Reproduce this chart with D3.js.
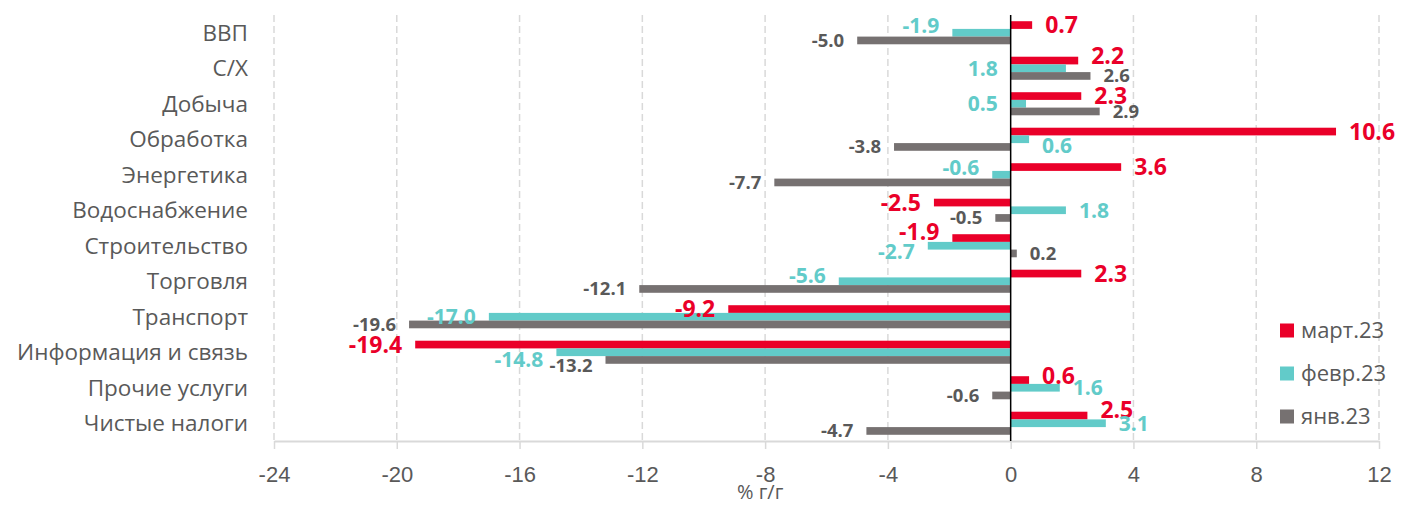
<!DOCTYPE html>
<html>
<head>
<meta charset="utf-8">
<script src="https://cdn.jsdelivr.net/npm/d3@7"></script>
<style>
  body { margin: 0; background: #fff; }
  svg { display: block; font-family: "Open Sans", sans-serif; }
</style>
</head>
<body>
<div id="chart"></div>
<script>
// categories top to bottom
const categories = [
  "ВВП", "С/Х", "Добыча", "Обработка", "Энергетика", "Водоснабжение",
  "Строительство", "Торговля", "Транспорт", "Информация и связь",
  "Прочие услуги", "Чистые налоги"
];

// % г/г by month
const march = [0.7, 2.2, 2.3, 10.6, 3.6, -2.5, -1.9, 2.3, -9.2, -19.4, 0.6, 2.5];
const february = [-1.9, 1.8, 0.5, 0.6, -0.6, 1.8, -2.7, -5.6, -17.0, -14.8, 1.6, 3.1];
const january = [-5.0, 2.6, 2.9, -3.8, -7.7, -0.5, 0.2, -12.1, -19.6, -13.2, -0.6, -4.7];

const seriesNames = ["март.23", "февр.23", "янв.23"];
const xTicks = [-24, -20, -16, -12, -8, -4, 0, 4, 8, 12];

const series = [
  { name: seriesNames[0], values: march, color: "#EA0029", label: "#EA0029", size: 23 },
  { name: seriesNames[1], values: february, color: "#62CBC9", label: "#62CBC9", size: 21 },
  { name: seriesNames[2], values: january, color: "#767171", label: "#595959", size: 18.5 }
];

// hand-placed labels in the original (moved up/down or put on the other side)
const labelTweaks = {
  "февр.23|ВВП": { dy: -7 },
  "март.23|С/Х": { dy: -5 },
  "февр.23|С/Х": { flip: true },
  "февр.23|Добыча": { flip: true },
  "февр.23|Обработка": { dy: 6 },
  "февр.23|Энергетика": { dy: -7 },
  "март.23|Строительство": { dy: -6 },
  "февр.23|Строительство": { dy: 6 },
  "февр.23|Торговля": { dy: -6 },
  "февр.23|Информация и связь": { dy: 7 },
  "янв.23|Информация и связь": { dy: 6 },
  "март.23|Прочие услуги": { dy: -4 },
  "март.23|Чистые налоги": { dy: -6 }
};

// plain hyphen minus like the original
const fmt = d3.formatLocale({ decimal: ".", thousands: " ", grouping: [3], currency: ["", ""], minus: "-" });

const width = 1402, height = 506;
const plot = { left: 274, right: 1379, top: 15, bottom: 441 };

const svg = d3.select("#chart")
  .append("svg")
  .attr("width", width)
  .attr("height", height);

const x = d3.scaleLinear()
  .domain([-24, 12])
  .range([plot.left, plot.right]);

const y = d3.scaleBand()
  .domain(categories)
  .range([plot.top, plot.bottom])
  .paddingInner(0.35)
  .paddingOuter(0.175);

const ySeries = d3.scaleBand()
  .domain(seriesNames)
  .range([0, y.bandwidth()]);

// dashed vertical gridlines
svg.append("g")
  .selectAll("line")
  .data(xTicks.filter((t) => t !== 0))
  .enter()
  .append("line")
  .attr("x1", (d) => x(d))
  .attr("x2", (d) => x(d))
  .attr("y1", plot.top)
  .attr("y2", plot.bottom)
  .attr("stroke", "#D9D9D9")
  .attr("stroke-width", 1.5)
  .attr("stroke-dasharray", "7,4");

// bottom axis
const axis = svg.append("g")
  .attr("transform", `translate(0,${plot.bottom})`)
  .call(d3.axisBottom(x).tickValues(xTicks).tickSizeInner(8).tickSizeOuter(0).tickFormat(fmt.format("d")));

axis.select(".domain").attr("stroke", "#D9D9D9").attr("stroke-width", 2);
axis.selectAll(".tick line").attr("stroke", "#D9D9D9").attr("stroke-width", 1.5);
axis.selectAll(".tick text")
  .attr("y", 33)
  .attr("dy", "0.35em")
  .attr("fill", "#595959")
  .style("font-size", "22px");

// axis title
svg.append("text")
  .attr("x", x(-8) - 5)
  .attr("y", 492)
  .attr("dy", "0.35em")
  .attr("text-anchor", "middle")
  .attr("fill", "#595959")
  .style("font-size", "20px")
  .text("% г/г");

// category labels
svg.append("g")
  .selectAll("text")
  .data(categories)
  .enter()
  .append("text")
  .attr("x", plot.left - 26)
  .attr("y", (d) => y(d) + y.bandwidth() / 2)
  .attr("dy", "0.35em")
  .attr("text-anchor", "end")
  .attr("fill", "#595959")
  .style("font-size", "22.5px")
  .text((d) => d);

// bars
const rows = series.flatMap((s) =>
  s.values.map((v, i) => ({ series: s, cat: categories[i], value: v }))
);

svg.append("g")
  .selectAll("rect")
  .data(rows)
  .enter()
  .append("rect")
  .attr("x", (d) => x(Math.min(0, d.value)))
  .attr("y", (d) => y(d.cat) + ySeries(d.series.name))
  .attr("width", (d) => Math.abs(x(d.value) - x(0)))
  .attr("height", ySeries.bandwidth())
  .attr("fill", (d) => d.series.color);

// zero line
svg.append("line")
  .attr("x1", x(0))
  .attr("x2", x(0))
  .attr("y1", plot.top)
  .attr("y2", plot.bottom)
  .attr("stroke", "#000")
  .attr("stroke-width", 1.5);

// value labels
const pad = 13;
svg.append("g")
  .selectAll("text")
  .data(rows)
  .enter()
  .append("text")
  .each(function (d) {
    const tw = labelTweaks[d.series.name + "|" + d.cat] || {};
    let right = d.value >= 0;
    let xPos = right ? x(d.value) + pad : x(d.value) - pad;
    if (tw.flip) {
      right = false;
      xPos = x(0) - pad;
    }
    d3.select(this)
      .attr("x", xPos)
      .attr("y", y(d.cat) + ySeries(d.series.name) + ySeries.bandwidth() / 2 + (tw.dy || 0))
      .attr("text-anchor", right ? "start" : "end");
  })
  .attr("dy", "0.35em")
  .attr("fill", (d) => d.series.label)
  .style("font-size", (d) => d.series.size + "px")
  .style("font-weight", "bold")
  .text((d) => fmt.format(".1f")(d.value));

// legend
const legend = svg.append("g")
  .selectAll("g")
  .data(series)
  .enter()
  .append("g")
  .attr("transform", (d, i) => `translate(1280,${330.5 + i * 43})`);

legend.append("rect")
  .attr("x", 0)
  .attr("y", -7)
  .attr("width", 14)
  .attr("height", 14)
  .attr("fill", (d) => d.color);

legend.append("text")
  .attr("x", 21)
  .attr("dy", "0.35em")
  .attr("fill", "#595959")
  .style("font-size", "22px")
  .text((d) => d.name);
</script>
</body>
</html>
